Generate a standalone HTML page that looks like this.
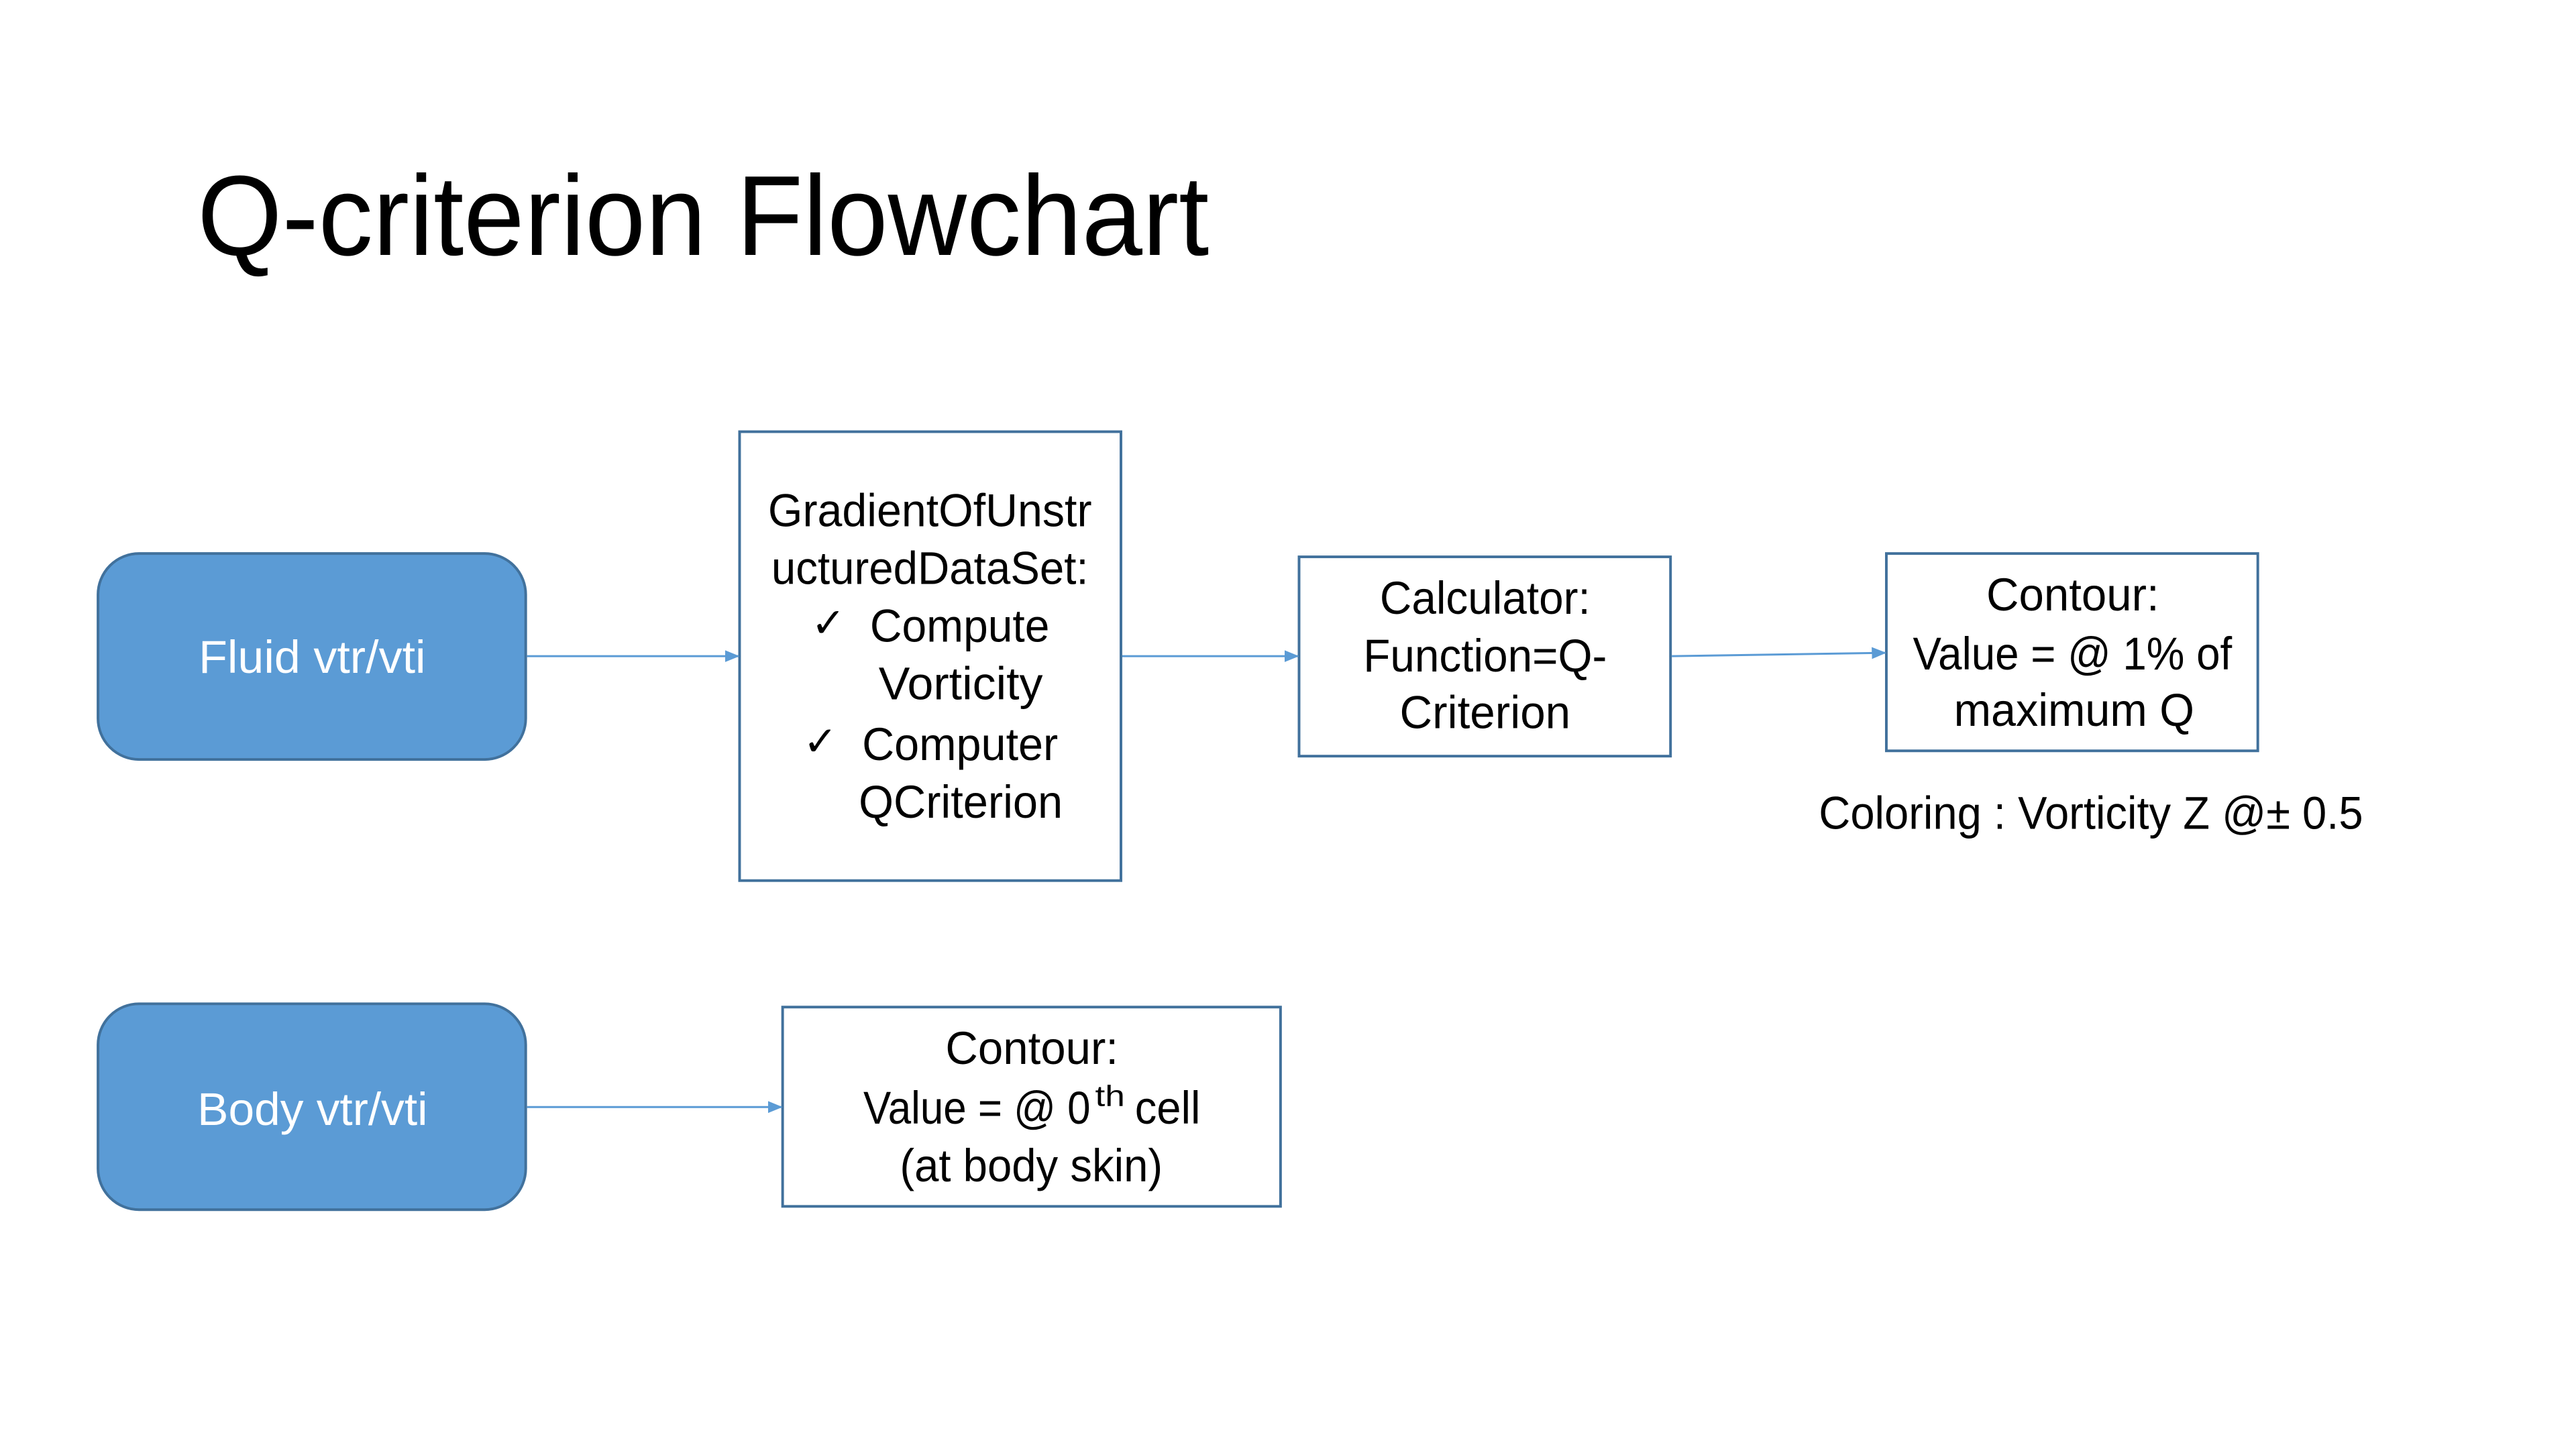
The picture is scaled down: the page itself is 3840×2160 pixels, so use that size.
<!DOCTYPE html>
<html><head><meta charset="utf-8"><style>html,body{margin:0;padding:0;background:#fff}svg{display:block}</style></head>
<body>
<svg width="3840" height="2160" viewBox="0 0 3840 2160" xmlns="http://www.w3.org/2000/svg" font-family="'Liberation Sans', sans-serif">
<defs>
<marker id="ar" markerWidth="22" markerHeight="22" refX="20" refY="11" orient="auto" markerUnits="userSpaceOnUse" viewBox="0 0 22 22">
<path d="M0,2 L22,11 L0,20 z" fill="#5B9BD5"/>
</marker>
</defs>
<rect width="3840" height="2160" fill="#fff"/>
<g transform="scale(0.987)">
<text x="298" y="385" font-size="172" fill="#000" textLength="1528" lengthAdjust="spacingAndGlyphs">Q-criterion Flowchart</text>

<rect x="148" y="836" width="646" height="311" rx="62" fill="#5B9BD5" stroke="#41719C" stroke-width="4"/>
<rect x="148" y="1516" width="646" height="311" rx="62" fill="#5B9BD5" stroke="#41719C" stroke-width="4"/>
<text x="300" y="1016" font-size="70" fill="#fff" textLength="343" lengthAdjust="spacingAndGlyphs">Fluid vtr/vti</text>
<text x="298" y="1699" font-size="70" fill="#fff" textLength="348" lengthAdjust="spacingAndGlyphs">Body vtr/vti</text>

<g fill="none" stroke="#41719C" stroke-width="4">
<rect x="1117" y="652" width="576" height="678"/>
<rect x="1962" y="841" width="561" height="301"/>
<rect x="2849" y="836" width="561" height="298"/>
<rect x="1182" y="1521" width="752" height="301"/>
</g>

<g stroke="#5B9BD5" stroke-width="3" fill="none">
<line x1="796" y1="991" x2="1115" y2="991" marker-end="url(#ar)"/>
<line x1="1695" y1="991" x2="1960" y2="991" marker-end="url(#ar)"/>
<line x1="2525" y1="991" x2="2847" y2="986" marker-end="url(#ar)"/>
<line x1="796" y1="1672" x2="1180" y2="1672" marker-end="url(#ar)"/>
</g>

<g font-size="70" fill="#000">
<text x="1160" y="795" textLength="489" lengthAdjust="spacingAndGlyphs">GradientOfUnstr</text>
<text x="1165" y="882" textLength="479" lengthAdjust="spacingAndGlyphs">ucturedDataSet:</text>
<text x="1225" y="962" font-size="62" font-family="'DejaVu Sans', sans-serif">✓</text>
<text x="1314" y="969" textLength="271" lengthAdjust="spacingAndGlyphs">Compute</text>
<text x="1327" y="1056" textLength="248" lengthAdjust="spacingAndGlyphs">Vorticity</text>
<text x="1213" y="1141" font-size="62" font-family="'DejaVu Sans', sans-serif">✓</text>
<text x="1302" y="1148" textLength="296" lengthAdjust="spacingAndGlyphs">Computer</text>
<text x="1297" y="1235" textLength="308" lengthAdjust="spacingAndGlyphs">QCriterion</text>

<text x="2084" y="927" textLength="318" lengthAdjust="spacingAndGlyphs">Calculator:</text>
<text x="2059" y="1014" textLength="368" lengthAdjust="spacingAndGlyphs">Function=Q-</text>
<text x="2114" y="1100" textLength="258" lengthAdjust="spacingAndGlyphs">Criterion</text>

<text x="3000" y="922" textLength="261" lengthAdjust="spacingAndGlyphs">Contour:</text>
<text x="2889" y="1011" textLength="482" lengthAdjust="spacingAndGlyphs">Value = @ 1% of</text>
<text x="2951" y="1096" textLength="363" lengthAdjust="spacingAndGlyphs">maximum Q</text>

<text x="2747" y="1252" textLength="822" lengthAdjust="spacingAndGlyphs">Coloring : Vorticity Z @± 0.5</text>

<text x="1428" y="1607" textLength="261" lengthAdjust="spacingAndGlyphs">Contour:</text>
<text x="1304" y="1697" textLength="343" lengthAdjust="spacingAndGlyphs">Value = @ 0</text>
<text x="1654" y="1670" font-size="44" textLength="45" lengthAdjust="spacingAndGlyphs">th</text>
<text x="1714" y="1697" textLength="99" lengthAdjust="spacingAndGlyphs">cell</text>
<text x="1359" y="1784" textLength="397" lengthAdjust="spacingAndGlyphs">(at body skin)</text>
</g>
</g>
</svg>
</body></html>
